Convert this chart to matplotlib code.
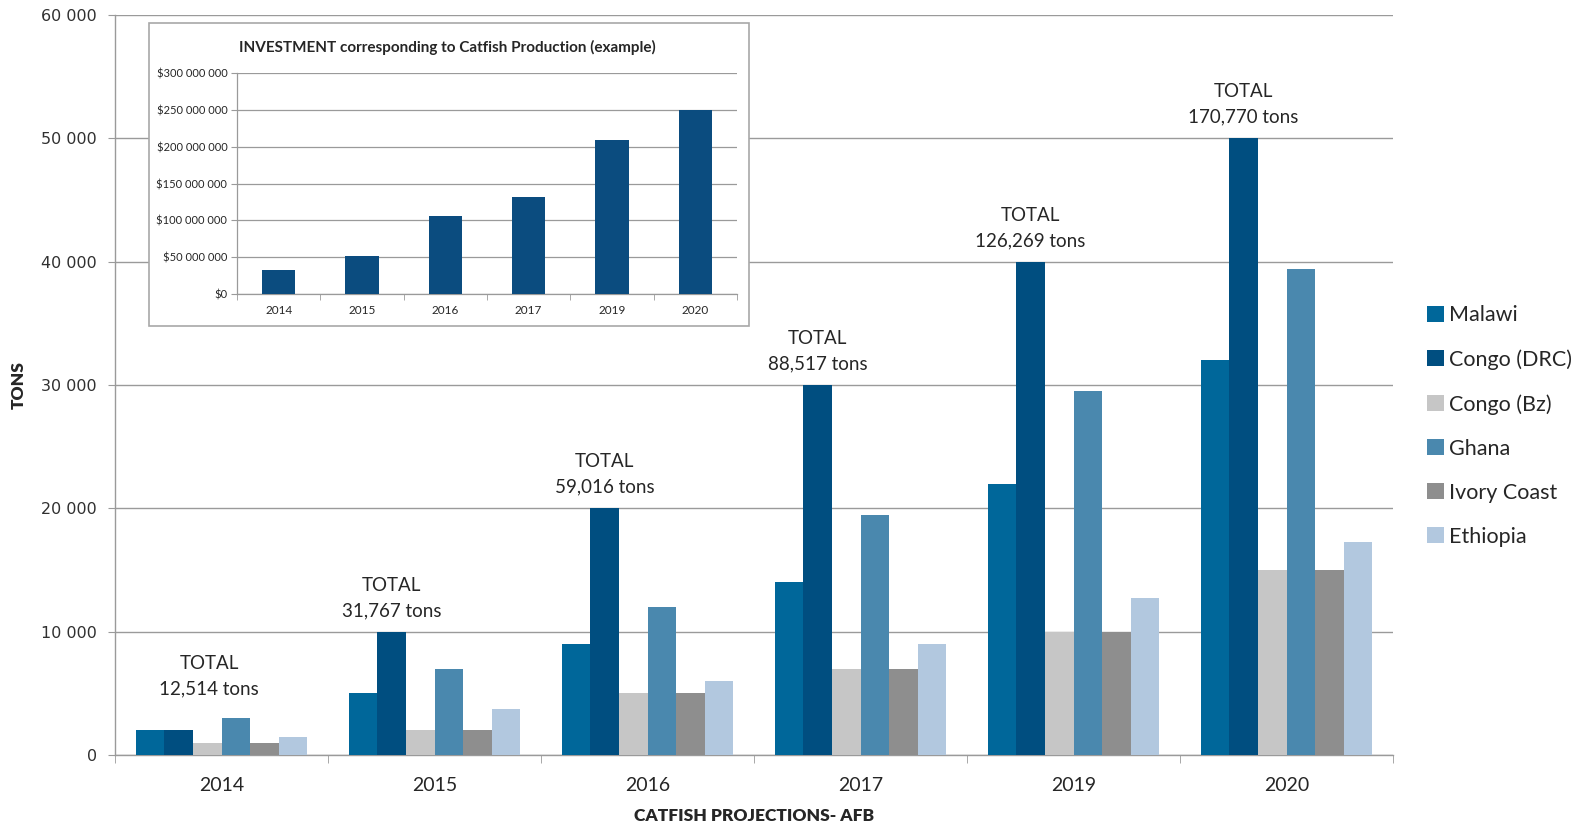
import numpy as np
import matplotlib
matplotlib.use("Agg")
import matplotlib.pyplot as plt
from matplotlib.patches import Rectangle, Patch
from matplotlib.ticker import FuncFormatter, FixedLocator

years = ["2014", "2015", "2016", "2017", "2019", "2020"]
countries = ["Malawi", "Congo (DRC)", "Congo (Bz)", "Ghana", "Ivory Coast", "Ethiopia"]
malawi = [2000, 5000, 9000, 14000, 22000, 32000]
congo_drc = [2000, 10000, 20000, 30000, 40000, 50000]
congo_bz = [1000, 2000, 5000, 7000, 10000, 15000]
ghana = [3000, 7000, 12000, 19500, 29500, 39400]
ivory_coast = [1000, 2000, 5000, 7000, 10000, 15000]
ethiopia = [1500, 3700, 6000, 9000, 12700, 17300]
totals = [12514, 31767, 59016, 88517, 126269, 170770]
investment = [33e6, 51e6, 106e6, 131e6, 209e6, 250e6]

series = [malawi, congo_drc, congo_bz, ghana, ivory_coast, ethiopia]
colors = ["#00679A", "#004E80", "#C6C6C6", "#4A88AE", "#8E8E8E", "#B2C8DF"]

FONT = "Lato"
GRID = "#9a9a9a"
TXT = "#262626"

fig = plt.figure(figsize=(15.85, 8.32), dpi=100)
ax = fig.add_axes([115/1585, 1-755/832, (1393-115)/1585, (755-15)/832])

n = len(years)
x = np.arange(n)
bw = 0.134
for i, (vals, c) in enumerate(zip(series, colors)):
    ax.bar(x + (i - 2.5) * bw, vals, width=bw, color=c, label=countries[i], zorder=3)

ax.set_xlim(-0.5, n - 0.5)
ax.set_ylim(0, 60000)
ax.yaxis.set_major_locator(FixedLocator(np.arange(0, 60001, 10000)))
ax.yaxis.set_major_formatter(FuncFormatter(lambda v, p: f"{int(v):,}".replace(",", " ")))
ax.grid(axis="y", color=GRID, linewidth=1.0, zorder=0)
ax.set_axisbelow(True)
for s in ["top", "right"]:
    ax.spines[s].set_visible(False)
for s in ["left", "bottom"]:
    ax.spines[s].set_color(GRID)
    ax.spines[s].set_linewidth(1.0)
ax.set_xticks(x)
ax.set_xticklabels(years, fontsize=14, family=FONT, color=TXT)
ax.set_xticks(np.arange(-0.5, n, 1.0), minor=True)
ax.tick_params(axis="x", which="major", length=0, pad=16)
ax.tick_params(axis="x", which="minor", length=6, color=GRID, direction="out")
ax.tick_params(axis="y", length=5, color=GRID, pad=8, labelsize=11.5, labelcolor="#303030")
for lab in ax.get_yticklabels():
    lab.set_family("DejaVu Sans")

ax.set_ylabel("TONS", fontsize=12.5, fontweight="heavy", family=FONT, color=TXT, labelpad=10)
ax.set_xlabel("CATFISH PROJECTIONS- AFB", fontsize=12.5, fontweight="heavy", family=FONT,
              color=TXT, labelpad=10)

# total annotations above Congo (DRC) bars
drc_x = x + (1 - 2.5) * bw
for i in range(n):
    dx, dy = 0, 9
    if i == 0:
        dx, dy = 22, 24
    ax.annotate(f"TOTAL\n{totals[i]:,} tons", xy=(drc_x[i], congo_drc[i]),
                xytext=(dx, dy), textcoords="offset points", ha="center", va="bottom",
                fontsize=13.5, family=FONT, color=TXT, linespacing=1.6, zorder=5)

# legend
handles = [Patch(facecolor=c, edgecolor="none") for c in colors]
fig.legend(handles, countries, loc="center left", bbox_to_anchor=(1408/1585, 1-426/832),
           frameon=False, prop={"family": FONT, "size": 15.5}, handlelength=0.75,
           handleheight=0.75, handletextpad=0.25, labelspacing=1.12, labelcolor=TXT)

# inset box
box = Rectangle((149/1585, 1-326/832), (749-149)/1585, (326-23)/832, transform=fig.transFigure,
                facecolor="white", edgecolor="#a8a8a8", linewidth=1.2, zorder=2)
fig.patches.append(box)

ins = fig.add_axes([237/1585, 1-294/832, (737-237)/1585, (294-73)/832], zorder=3)
ins.bar(x, investment, width=0.4, color="#0B4C7F", zorder=3)
ins.set_xlim(-0.5, n - 0.5)
ins.set_ylim(0, 300e6)
ins.yaxis.set_major_locator(FixedLocator(np.arange(0, 300e6 + 1, 50e6)))
ins.yaxis.set_major_formatter(FuncFormatter(lambda v, p: "$" + f"{int(v):,}".replace(",", " ")))
ins.grid(axis="y", color=GRID, linewidth=0.9, zorder=0)
ins.set_axisbelow(True)
ins.patch.set_alpha(0)
for s in ["top", "right"]:
    ins.spines[s].set_visible(False)
for s in ["left", "bottom"]:
    ins.spines[s].set_color(GRID)
    ins.spines[s].set_linewidth(0.9)
ins.set_xticks(x)
ins.set_xticklabels(years, fontsize=8.5, family=FONT, color=TXT)
ins.set_xticks(np.arange(-0.5, n, 1.0), minor=True)
ins.tick_params(axis="x", which="major", length=0, pad=8)
ins.tick_params(axis="x", which="minor", length=4, color=GRID)
ins.tick_params(axis="y", length=4, color=GRID, pad=3, labelsize=8)
for lab in ins.get_yticklabels():
    lab.set_family(FONT)
    lab.set_color(TXT)
fig.text(447/1585, 1-47/832, "INVESTMENT corresponding to Catfish Production (example)",
         ha="center", va="center", fontsize=11, fontweight="bold", family=FONT, color=TXT,
         zorder=4)

fig.savefig("out.png", dpi=100)
